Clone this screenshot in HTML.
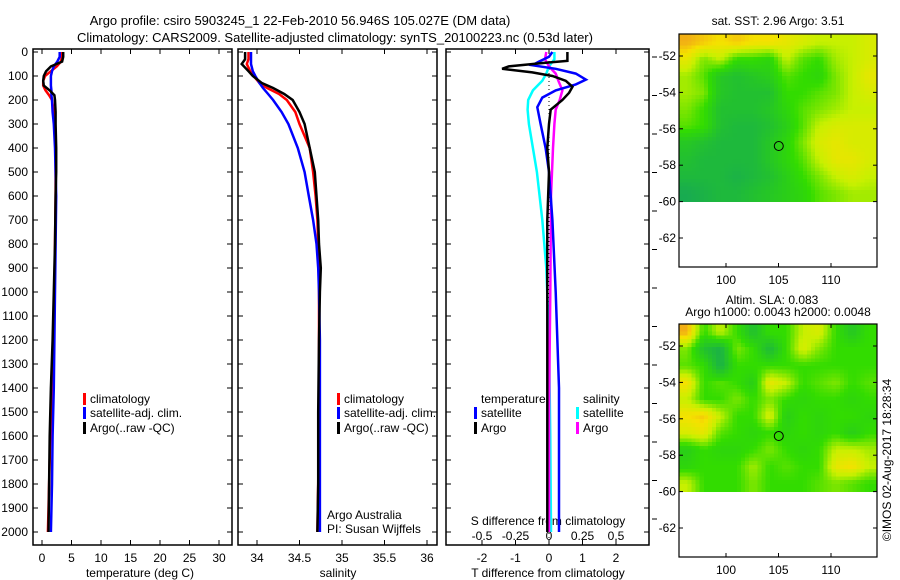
<!DOCTYPE html>
<html><head><meta charset="utf-8"><style>
html,body{margin:0;padding:0;background:#fff}
svg{display:block;font-family:"Liberation Sans",sans-serif}
</style></head><body>
<svg id="c" width="900" height="580" viewBox="0 0 900 580" xmlns="http://www.w3.org/2000/svg">
<text x="300" y="25" font-size="13" text-anchor="middle">Argo profile: csiro 5903245_1 22-Feb-2010 56.946S 105.027E (DM data)</text>
<text x="335" y="42" font-size="13" text-anchor="middle">Climatology: CARS2009. Satellite-adjusted climatology: synTS_20100223.nc (0.53d later)</text>
<g id="g"></g>
</svg>
<script>
// ---- data ----
const depthTicks=[0,100,200,300,400,500,600,700,800,900,1000,1100,1200,1300,1400,1500,1600,1700,1800,1900,2000];
const tTicks=[0,5,10,15,20,25,30];
const sTicks=[34,34.5,35,35.5,36];
const dTTicks=[-2,-1,0,1,2];
const dSTickLabels=["-0.5","-0.25","0","0.25","0.5"];
const tDepth=[0,20,40,60,80,100,120,140,160,180,200,250,300,400,500,600,800,1000,1200,1400,1600,1800,2000];
const climT=[3.4,3.4,3.2,2.5,1.5,0.5,0.2,0.2,0.6,1.2,1.7,2.0,2.2,2.3,2.3,2.3,2.2,2.1,1.9,1.7,1.4,1.2,1.0];
const satT=[3.0,3.0,2.6,2.0,1.7,1.5,1.5,1.5,1.6,1.6,1.7,1.8,2.0,2.2,2.3,2.4,2.3,2.2,2.1,2.0,1.8,1.7,1.5];
const argoT=[3.6,3.6,3.4,1.5,0.7,0.3,0.2,0.3,1.3,2.1,2.2,2.3,2.3,2.4,2.4,2.3,2.2,2.0,1.8,1.5,1.3,1.2,1.1];
const sDepth=[0,30,50,80,100,130,150,175,200,250,300,400,500,600,700,800,900,1000,1200,1500,1800,2000];
const climS=[33.90,33.90,33.88,33.92,33.96,34.03,34.12,34.26,34.35,34.45,34.50,34.62,34.66,34.69,34.71,34.72,34.73,34.73,34.73,34.73,34.72,34.71];
const satS=[33.93,33.93,33.93,33.95,33.98,34.03,34.07,34.13,34.19,34.29,34.37,34.48,34.56,34.61,34.66,34.70,34.72,34.73,34.74,34.74,34.74,34.74];
const argoS=[33.86,33.86,33.82,33.90,33.95,34.06,34.19,34.32,34.42,34.50,34.56,34.62,34.68,34.70,34.72,34.73,34.75,34.74,34.73,34.72,34.72,34.71];
const dTsatDepth=[0,20,40,55,70,90,115,135,160,190,230,300,400,500,700,1000,1400,2000];
const dTsat=[0.1,0.0,-0.3,-0.5,0.2,0.8,1.1,0.8,0.2,-0.2,-0.35,-0.25,-0.1,0.0,0.1,0.2,0.3,0.3];
const dTargoDepth=[0,20,37,45,60,70,85,100,120,145,170,200,240,300,400,500,700,1000,1400,1800,2000];
const dTargo=[0.55,0.55,0.55,-0.1,-1.2,-1.4,-0.5,0.1,0.5,0.7,0.6,0.4,0.05,0.0,-0.05,0.0,-0.05,-0.05,-0.05,-0.05,-0.05];
const dSsatDepth=[0,30,60,90,120,160,200,240,300,400,500,700,900,1200,1600,2000];
const dSsat=[0.04,0.04,0.0,-0.02,-0.05,-0.12,-0.155,-0.16,-0.15,-0.12,-0.09,-0.05,-0.02,0.0,0.01,0.015];
const dSargoDepth=[0,30,60,90,120,160,200,240,300,400,600,1000,1500,2000];
const dSargo=[-0.02,-0.03,0.0,0.05,0.07,0.1,0.08,0.05,0.04,0.03,0.015,0.01,0.0,0.0];
const lonTicks=[100,105,110];
const latTicks=[-52,-54,-56,-58,-60,-62];
const sstGrid=[
[0.95,0.9,0.85,0.9,0.85,0.85,0.8,0.75,0.7,0.7,0.7,0.75],
[0.8,0.6,0.7,0.5,0.5,0.45,0.7,0.55,0.5,0.65,0.7,0.75],
[0.65,0.55,0.35,0.3,0.35,0.4,0.55,0.5,0.45,0.6,0.7,0.8],
[0.65,0.6,0.35,0.3,0.3,0.3,0.5,0.5,0.55,0.6,0.7,0.75],
[0.6,0.5,0.3,0.3,0.3,0.35,0.45,0.55,0.6,0.65,0.7,0.7],
[0.55,0.5,0.3,0.25,0.25,0.3,0.4,0.55,0.7,0.75,0.75,0.75],
[0.35,0.3,0.25,0.25,0.25,0.35,0.45,0.6,0.75,0.8,0.75,0.75],
[0.3,0.25,0.25,0.25,0.25,0.35,0.45,0.55,0.7,0.8,0.8,0.75],
[0.25,0.25,0.25,0.2,0.25,0.3,0.4,0.5,0.6,0.7,0.75,0.7],
[0.15,0.2,0.25,0.25,0.3,0.35,0.4,0.45,0.55,0.6,0.65,0.65]];
const slaGrid=[
[0.95,0.5,0.7,0.5,0.3,0.5,0.5,0.7,0.75,0.5,0.35,0.5],
[0.6,0.3,0.2,0.6,0.5,0.25,0.5,0.75,0.6,0.5,0.5,0.5],
[0.55,0.5,0.2,0.5,0.5,0.5,0.5,0.5,0.5,0.5,0.5,0.5],
[0.85,0.5,0.55,0.5,0.4,0.8,0.7,0.5,0.55,0.6,0.5,0.55],
[0.7,0.5,0.5,0.6,0.5,0.6,0.5,0.45,0.5,0.5,0.45,0.5],
[0.85,0.9,0.7,0.5,0.5,0.75,0.4,0.5,0.45,0.5,0.5,0.45],
[0.75,0.8,0.55,0.5,0.45,0.5,0.45,0.5,0.45,0.5,0.4,0.5],
[0.4,0.5,0.45,0.45,0.5,0.6,0.5,0.45,0.5,0.7,0.7,0.65],
[0.45,0.5,0.5,0.5,0.65,0.5,0.55,0.5,0.5,0.8,0.85,0.7],
[0.7,0.5,0.5,0.5,0.6,0.5,0.5,0.5,0.55,0.6,0.55,0.5]];
const argoLon=105.027, argoLat=-56.946;

// ---- helpers ----
const NS="http://www.w3.org/2000/svg";
const G=document.getElementById('g');
function mk(tag,at,parent){const e=document.createElementNS(NS,tag);for(const k in at)e.setAttribute(k,at[k]);(parent||G).appendChild(e);return e;}
const yD=d=>52+d*0.24;
const xT=t=>42+t*5.9;
const xS=s=>257+(s-34)*85;
const xdT=t=>549+t*33.5;
const xdS=s=>549+s*134;
const PT=49, PB=545;
const panels=[[33,232],[238,437],[446,649]];

function line(xs,ds,xf,color,name,w){
  const pts=xs.map((v,i)=>xf(v).toFixed(1)+','+yD(ds[i]).toFixed(1)).join(' ');
  const p=mk('polyline',{points:pts,fill:'none',stroke:color,'stroke-width':w||2.5,'stroke-linejoin':'miter'});
  
  
}
function txt(x,y,s,opts){const t=mk('text',Object.assign({x:x,y:y,'font-size':12},opts||{}));t.textContent=s;return t;}

panels.forEach((p,i)=>{
  const r=mk('rect',{x:p[0],y:PT,width:p[1]-p[0],height:PB-PT,fill:'none',stroke:'#000','stroke-width':1.5});
  
  
  depthTicks.forEach(d=>{
    mk('line',{x1:p[0],x2:p[0]+5,y1:yD(d),y2:yD(d),stroke:'#000'});
    mk('line',{x1:p[1],x2:p[1]-5,y1:yD(d),y2:yD(d),stroke:'#000'});
  });
});
depthTicks.forEach(d=>{
  const t=txt(28,yD(d)+4,String(d),{'text-anchor':'end'});
  
  
});
for(let k=0;k<13;k++){mk('line',{x1:652,x2:657,y1:57+k*38.5,y2:57+k*38.5,stroke:'#000'});}

tTicks.forEach(t=>{mk('line',{x1:xT(t),x2:xT(t),y1:PT,y2:PT+5,stroke:'#000'});mk('line',{x1:xT(t),x2:xT(t),y1:PB,y2:PB-5,stroke:'#000'});
  const l=txt(xT(t),562,String(t),{'text-anchor':'middle'});});
sTicks.forEach(s=>{mk('line',{x1:xS(s),x2:xS(s),y1:PT,y2:PT+5,stroke:'#000'});mk('line',{x1:xS(s),x2:xS(s),y1:PB,y2:PB-5,stroke:'#000'});
  const l=txt(xS(s),562,String(s),{'text-anchor':'middle'});});
dTTicks.forEach(t=>{mk('line',{x1:xdT(t),x2:xdT(t),y1:PT,y2:PT+5,stroke:'#000'});mk('line',{x1:xdT(t),x2:xdT(t),y1:PB,y2:PB-5,stroke:'#000'});
  const l=txt(xdT(t),562,String(t),{'text-anchor':'middle'});});
dSTickLabels.forEach(s=>{const l=txt(xdS(parseFloat(s)),540,s,{'text-anchor':'middle'});});
let a;
a=txt(140,577,'temperature (deg C)',{'text-anchor':'middle'});
a=txt(338,577,'salinity',{'text-anchor':'middle'});
a=txt(548,577,'T difference from climatology',{'text-anchor':'middle'});
a=txt(548,525,'S difference from climatology',{'text-anchor':'middle'});

mk('line',{x1:xdT(0),x2:xdT(0),y1:PT,y2:PB,stroke:'#000','stroke-dasharray':'1,3'});

line(climT,tDepth,xT,'#ff0000','temperature-climatology-line');
line(satT,tDepth,xT,'#0000ff','temperature-satellite-line');
line(argoT,tDepth,xT,'#000000','temperature-argo-line');
line(climS,sDepth,xS,'#ff0000','salinity-climatology-line');
line(satS,sDepth,xS,'#0000ff','salinity-satellite-line');
line(argoS,sDepth,xS,'#000000','salinity-argo-line');
line(dSsat,dSsatDepth,xdS,'#00ffff','s-diff-satellite-line');
line(dSargo,dSargoDepth,xdS,'#ff00ff','s-diff-argo-line');
line(dTsat,dTsatDepth,xdT,'#0000ff','t-diff-satellite-line');
line(dTargo,dTargoDepth,xdT,'#000000','t-diff-argo-line');

function leg(x,y,color,label,name){
  const b=mk('rect',{x:x,y:y-10,width:3,height:12,fill:color});
  
  const t=txt(x+7,y,label);
}
leg(83,403,'#ff0000','climatology','legend-climatology');
leg(83,417,'#0000ff','satellite-adj. clim.','legend-satellite');
leg(83,432,'#000000','Argo(..raw -QC)','legend-argo');
leg(337,403,'#ff0000','climatology','legend2-climatology');
leg(337,417,'#0000ff','satellite-adj. clim.','legend2-satellite');
leg(337,432,'#000000','Argo(..raw -QC)','legend2-argo');
a=txt(481,403,'temperature');
a=txt(583,403,'salinity');
leg(474,417,'#0000ff','satellite','legend-t-satellite');
leg(474,432,'#000000','Argo','legend-t-argo');
leg(576,417,'#00ffff','satellite','legend-s-satellite');
leg(576,432,'#ff00ff','Argo','legend-s-argo');
a=txt(327,519,'Argo Australia');
a=txt(327,533,'PI: Susan Wijffels');

// maps
const MX0=679,MX1=877;
const xLon=l=>726+(l-100)*10.5;
function cmap(v){
  const st=[[0,[16,150,110]],[0.25,[30,185,60]],[0.5,[50,220,0]],[0.7,[200,240,0]],[0.85,[245,225,0]],[1,[240,150,30]]];
  v=Math.max(0,Math.min(1,v));
  for(let i=1;i<st.length;i++){if(v<=st[i][0]){const f=(v-st[i-1][0])/(st[i][0]-st[i-1][0]);const c=st[i-1][1].map((c0,k)=>Math.round(c0+f*(st[i][1][k]-c0)));return 'rgb('+c+')';}}
  return 'rgb(240,150,30)';
}
function sample(grid,fr,fc){
  const R=grid.length-1,C=grid[0].length-1;
  fr=Math.max(0,Math.min(R,fr));fc=Math.max(0,Math.min(C,fc));
  const r0=Math.floor(fr),c0=Math.floor(fc),r1=Math.min(R,r0+1),c1=Math.min(C,c0+1);
  const a=fr-r0,b=fc-c0;
  return grid[r0][c0]*(1-a)*(1-b)+grid[r0][c1]*(1-a)*b+grid[r1][c0]*a*(1-b)+grid[r1][c1]*a*b;
}
function drawMap(oy,grid,name){
  const top=34+oy,bot=267+oy;
  const yLat=l=>56+oy+(-52-l)*18.2;
  const y60=yLat(-60);
  const gi=mk('g',{'shape-rendering':'crispEdges'});
  const rows=grid.length,cols=grid[0].length;
  const NX=48,NY=44;
  const cw=(MX1-MX0)/NX,rh=(y60-top)/NY;
  for(let i=0;i<NY;i++)for(let j=0;j<NX;j++){
    const v=sample(grid,(i+0.5)/NY*rows-0.5,(j+0.5)/NX*cols-0.5);
    const cell=mk('rect',{x:(MX0+j*cw).toFixed(2),y:(top+i*rh).toFixed(2),width:(cw+0.6).toFixed(2),height:(rh+0.6).toFixed(2),fill:cmap(v)},gi);
    
    
  }
  const fr=mk('rect',{x:MX0,y:top,width:MX1-MX0,height:bot-top,fill:'none',stroke:'#000','stroke-width':1.2});
  
  latTicks.forEach(l=>{mk('line',{x1:MX0,x2:MX0+4,y1:yLat(l),y2:yLat(l),stroke:'#000'});mk('line',{x1:MX1,x2:MX1-4,y1:yLat(l),y2:yLat(l),stroke:'#000'});
    const t=txt(MX0-3,yLat(l)+4,String(l),{'text-anchor':'end'});});
  lonTicks.forEach(l=>{mk('line',{x1:xLon(l),x2:xLon(l),y1:top,y2:top+4,stroke:'#000'});mk('line',{x1:xLon(l),x2:xLon(l),y1:bot,y2:bot-4,stroke:'#000'});
    const t=txt(xLon(l),bot+17,String(l),{'text-anchor':'middle'});});
  const m=mk('circle',{cx:xLon(argoLon),cy:yLat(argoLat),r:4.5,fill:'none',stroke:'#000','stroke-width':1});
  
}
drawMap(0,sstGrid,'sst-map');
drawMap(290,slaGrid,'sla-map');
a=txt(778,25,'sat. SST: 2.96 Argo: 3.51',{'text-anchor':'middle'});
a=txt(772,304,'Altim. SLA: 0.083',{'text-anchor':'middle'});
a=txt(778,316,'Argo h1000: 0.0043 h2000: 0.0048',{'text-anchor':'middle'});
a=txt(0,0,'©IMOS 02-Aug-2017 18:28:34',{'text-anchor':'middle',transform:'translate(891,460) rotate(-90)'});
</script>
</body></html>
